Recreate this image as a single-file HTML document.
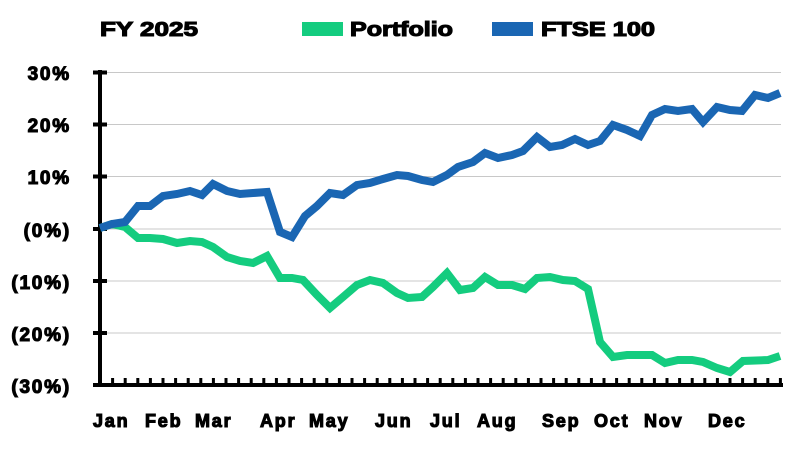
<!DOCTYPE html>
<html><head><style>
body{margin:0;background:#fff;}
svg text{font-family:"Liberation Sans",Arial,sans-serif;font-weight:bold;fill:#000;stroke:#000;stroke-width:1.1px;letter-spacing:1.8px;}
svg g.leg text{letter-spacing:0;}
</style></head><body>
<svg width="800" height="450" viewBox="0 0 800 450" xmlns="http://www.w3.org/2000/svg">
<g stroke="#c8c8c8" stroke-width="1">
<line x1="100" y1="72.5" x2="781" y2="72.5"/>
<line x1="100" y1="124.5" x2="781" y2="124.5"/>
<line x1="100" y1="176.5" x2="781" y2="176.5"/>
<line x1="100" y1="229" x2="781" y2="229"/>
<line x1="100" y1="281" x2="781" y2="281"/>
<line x1="100" y1="333" x2="781" y2="333"/>
</g>
<g stroke="#000" stroke-width="4">
<line x1="100" y1="70" x2="100" y2="387"/>
<line x1="93" y1="385" x2="783" y2="385"/>
<line x1="93" y1="72.5" x2="107" y2="72.5"/>
<line x1="93" y1="124.5" x2="107" y2="124.5"/>
<line x1="93" y1="176.5" x2="107" y2="176.5"/>
<line x1="93" y1="229" x2="107" y2="229"/>
<line x1="93" y1="281" x2="107" y2="281"/>
<line x1="93" y1="333" x2="107" y2="333"/>
</g>
<g stroke="#000" stroke-width="3" id="ticks"></g>
<polyline fill="none" stroke="#14CC7F" stroke-width="8" stroke-linejoin="miter" points="100,228 112,224 125,227 138,238 150,238 163,239 177,243 190,241 202,242 213,247 227,257 240,261 253,263 267,256 280,278 292,278 303,280 317,295 330,308 343,297 357,285 370,280 383,283 397,293 408,298 422,297 433,287 447,273 460,290 473,288 485,277 498,285 512,285 525,289 537,278 550,277 563,280 575,281 588,289 600,342 613,357 627,355 652,355 665,363 678,360 692,360 703,362 717,368 730,372 743,361 768,360 780,356"/>
<polyline fill="none" stroke="#1A66B3" stroke-width="8" stroke-linejoin="miter" points="100,228 112,224 125,222 138,206 150,206 163,196 177,194 190,191 202,195 213,184 227,191 240,194 253,193 267,192 280,232 292,237 305,216 317,206 330,193 343,195 357,185 370,183 383,179 397,175 408,176 422,180 433,182 447,175 458,167 473,162 485,153 498,158 512,155 523,151 537,137 550,147 562,145 575,139 588,145 600,141 613,125 627,130 640,136 652,115 665,109 678,111 692,109 703,122 717,107 730,110 742,111 755,95 768,98 780,93"/>
<g font-size="19">
<text x="71" y="80" text-anchor="end">30%</text>
<text x="71" y="132" text-anchor="end">20%</text>
<text x="71" y="184" text-anchor="end">10%</text>
<text x="71" y="237" text-anchor="end">(0%)</text>
<text x="71" y="289" text-anchor="end">(10%)</text>
<text x="71" y="341" text-anchor="end">(20%)</text>
<text x="71" y="393" text-anchor="end">(30%)</text>
</g>
<g font-size="18">
<text x="93" y="427">Jan</text>
<text x="145" y="427">Feb</text>
<text x="195" y="427">Mar</text>
<text x="260" y="427">Apr</text>
<text x="309" y="427">May</text>
<text x="375" y="427">Jun</text>
<text x="430" y="427">Jul</text>
<text x="477" y="427">Aug</text>
<text x="542" y="427">Sep</text>
<text x="594" y="427">Oct</text>
<text x="644" y="427">Nov</text>
<text x="708" y="427">Dec</text>
</g>
<g font-size="20" class="leg">
<text x="100" y="36" textLength="98" lengthAdjust="spacingAndGlyphs">FY 2025</text>
<rect x="302" y="22" width="41" height="14" fill="#14CC7F"/>
<text x="350" y="36" textLength="103" lengthAdjust="spacingAndGlyphs">Portfolio</text>
<rect x="492" y="22" width="41" height="14" fill="#1A66B3"/>
<text x="541" y="36" textLength="114" lengthAdjust="spacingAndGlyphs">FTSE 100</text>
</g>
</svg>
<script>
var g=document.getElementById('ticks');
for(var i=0;i<=54;i++){var x=100+i*12.6;var l=document.createElementNS('http://www.w3.org/2000/svg','line');l.setAttribute('x1',x);l.setAttribute('x2',x);l.setAttribute('y1',378);l.setAttribute('y2',385);g.appendChild(l);}
</script>
</body></html>
